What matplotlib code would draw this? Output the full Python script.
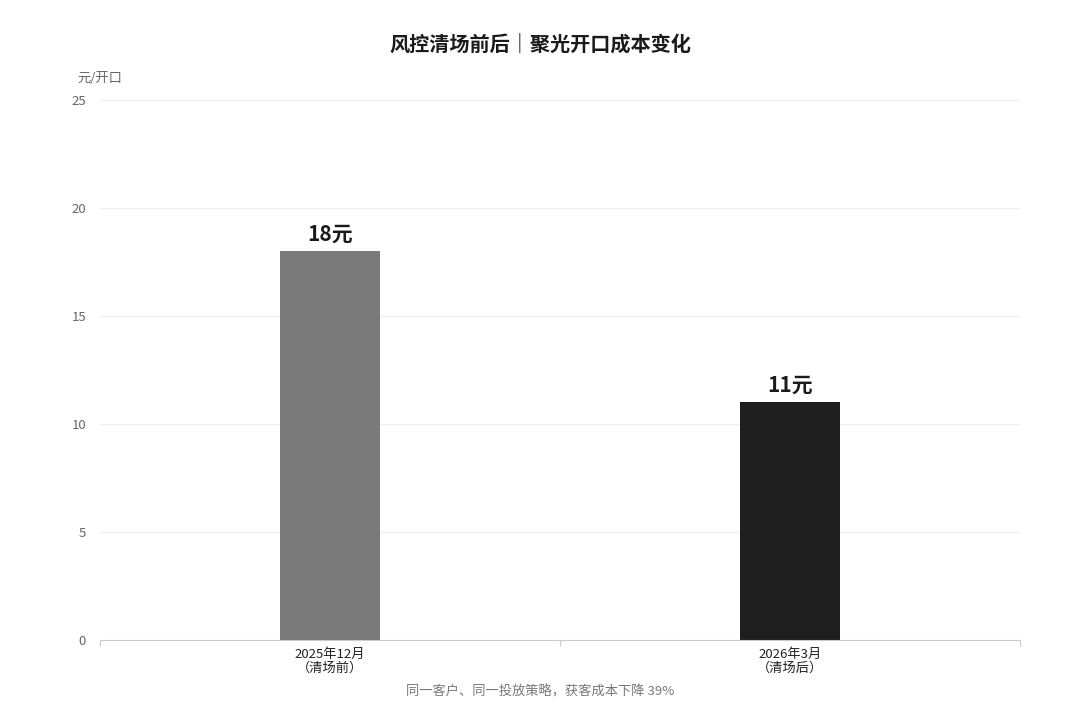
import matplotlib.pyplot as plt
import numpy as np

plt.rcParams['font.family'] = ['Noto Sans CJK SC', 'DejaVu Sans']

# data
categories = ['2025年12月\n（清场前）', '2026年3月\n（清场后）']
costs = [18, 11]
bar_colors = ['#7a7a7a', '#1e1e1e']
yticks = [0, 5, 10, 15, 20, 25]

fig = plt.figure(figsize=(10.8, 7.2), dpi=100)
ax = fig.add_axes([100 / 1080, 80 / 720, 920 / 1080, 540 / 720])

x = np.arange(len(categories))
bars = ax.bar(x, costs, width=0.217, color=bar_colors, zorder=3)

for b, v in zip(bars, costs):
    ax.annotate('{}元'.format(v), (b.get_x() + b.get_width() / 2, v),
                xytext=(0, 5), textcoords='offset points',
                ha='center', va='bottom', fontsize=15, fontweight='bold',
                color='#1a1a1a')

ax.set_xlim(-0.5, len(categories) - 0.5)
ax.set_ylim(0, 25)
ax.set_yticks(yticks)
ax.set_xticks(x)
ax.set_xticklabels(categories, fontsize=9.5, color='#222222', linespacing=1.0)
ax.set_xticks(np.arange(-0.5, len(categories)), minor=True)
ax.tick_params(axis='x', which='major', length=0, pad=6)
ax.tick_params(axis='x', which='minor', length=4, color='#cccccc', width=0.8)
ax.tick_params(axis='y', length=0, labelsize=9.5, labelcolor='#666666', pad=10)

ax.grid(axis='y', color='#eeeeee', linewidth=0.8, zorder=0)
for s in ['top', 'right', 'left']:
    ax.spines[s].set_visible(False)
ax.spines['bottom'].set_color('#cccccc')
ax.spines['bottom'].set_linewidth(0.8)
ax.spines['bottom'].set_zorder(4)

fig.text(100 / 1080, 1 - 78 / 720, '元/开口', ha='center', va='center',
         fontsize=9.5, color='#666666')
fig.text(0.5, 1 - 44 / 720, '风控清场前后｜聚光开口成本变化', ha='center',
         va='center', fontsize=14.5, fontweight='bold', color='#1a1a1a')
fig.text(0.5, 1 - 692 / 720, '同一客户、同一投放策略，获客成本下降 39%',
         ha='center', va='center', fontsize=9.5, color='#777777')

fig.savefig('out.png', dpi=100, facecolor='white')
